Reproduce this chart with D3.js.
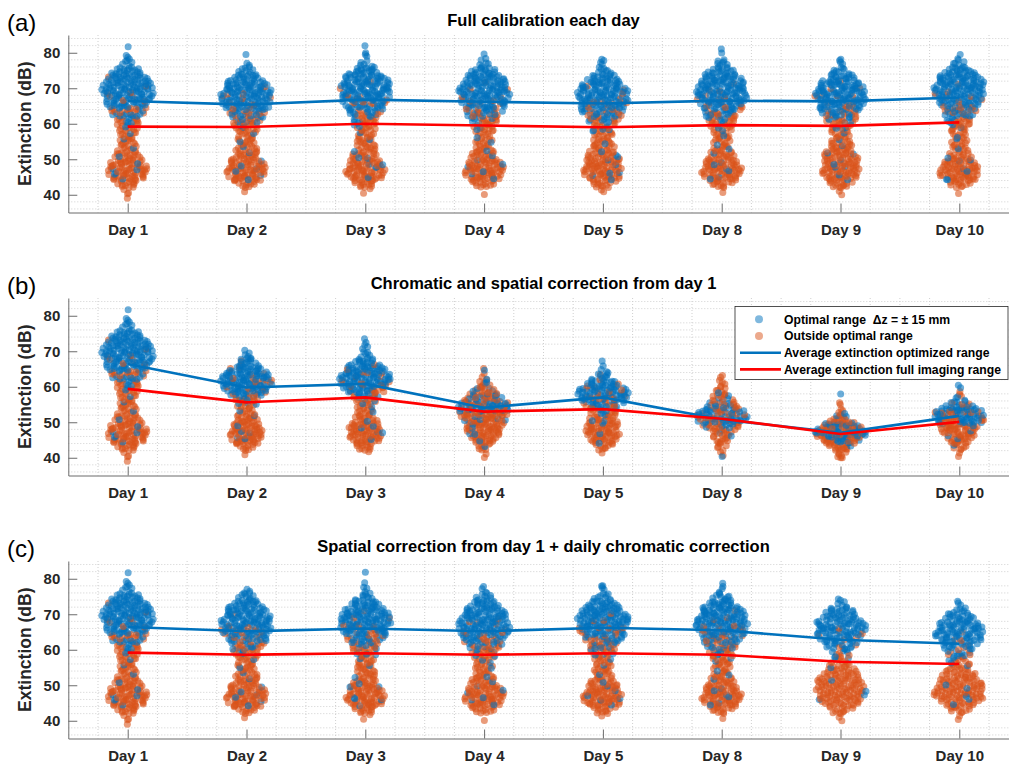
<!DOCTYPE html>
<html>
<head>
<meta charset="utf-8">
<script src="https://cdn.jsdelivr.net/npm/d3@7"></script>
<style>
  body { margin: 0; background: #fff; }
  svg { display: block; }
  text { font-family: "Liberation Sans", Arial, Helvetica, sans-serif; }
</style>
</head>
<body>
<svg id="chart" width="1009" height="766"></svg>
<script>
// Categories
const days = ['Day 1', 'Day 2', 'Day 3', 'Day 4', 'Day 5', 'Day 8', 'Day 9', 'Day 10'];
const yTicks = [40, 50, 60, 70, 80];

// Point counts per 2 dB bin, bins start at 38, 40, ..., 80 dB (22 bins)
const binLows = d3.range(38, 82, 2);

// Day 1 is the same measurement in all three panels
const day1Opt = [0,0,0,2,3,1,1,1,1,1,2,5,10,19,25,30,30,25,16,5,3,1];
const day1Out = [1,3,12,21,23,20,15,10,9,9,10,10,9,6,4,2,1,1,0,0,0,0];

// (a) full calibration each day
const optA = [
  day1Opt,
  [0,0,0,2,2,2,1,1,1,1,3,7,14,22,28,30,26,18,8,2,1,0],
  [0,0,0,1,2,2,2,1,1,1,2,5,10,18,25,29,30,26,16,5,2,2],
  [0,0,0,2,2,2,1,1,1,1,2,6,12,20,26,30,28,24,14,5,2,0],
  [0,0,0,2,2,2,2,1,1,1,3,8,15,23,28,29,25,17,8,3,1,0],
  [0,0,0,2,2,2,1,1,1,1,2,6,12,20,26,30,28,24,15,6,2,1],
  [0,0,0,2,2,2,2,1,1,1,3,7,14,22,28,30,27,18,8,3,1,0],
  [0,0,0,2,2,2,1,1,1,1,2,5,10,18,24,29,31,27,17,6,2,0]
];
const outA = [
  day1Out,
  [0,1,11,21,24,20,14,11,10,10,11,11,9,6,3,2,1,0,0,0,0,0],
  [0,2,12,21,23,19,14,11,10,9,10,10,8,6,4,2,1,0,0,0,0,0],
  [0,1,11,21,24,20,14,10,9,9,10,11,9,6,4,2,1,0,0,0,0,0],
  [0,2,12,20,22,21,17,13,11,10,10,10,9,6,3,2,1,0,0,0,0,0],
  [0,1,11,21,24,20,14,10,9,9,10,11,9,6,4,2,1,0,0,0,0,0],
  [0,3,12,20,22,21,19,15,11,9,10,10,9,6,4,2,1,0,0,0,0,0],
  [0,1,12,22,24,19,12,9,8,8,9,10,9,6,4,2,1,0,0,0,0,0]
];

// (b) chromatic and spatial correction from day 1
const optB = [
  day1Opt,
  [0,0,0,2,2,1,1,1,3,10,22,30,30,22,10,4,1,0,0,0,0,0],
  [0,0,0,1,2,2,1,1,2,7,17,27,30,26,14,6,3,2,0,0,0,0],
  [0,0,1,1,2,3,6,18,22,12,4,2,1,1,0,0,0,0,0,0,0,0],
  [0,0,0,1,1,1,2,5,14,26,28,18,8,3,1,0,0,0,0,0,0,0],
  [0,1,0,0,2,10,22,20,8,3,1,0,0,0,0,0,0,0,0,0,0,0],
  [0,0,1,12,30,16,3,1,0,1,0,0,0,0,0,0,0,0,0,0,0,0],
  [0,0,1,1,2,7,20,26,11,3,1,1,0,0,0,0,0,0,0,0,0,0]
];
const outB = [
  day1Out,
  [0,1,10,19,22,19,13,9,9,9,8,6,4,2,1,0,0,0,0,0,0,0],
  [0,1,10,19,22,19,13,9,9,9,9,7,4,2,1,0,0,0,0,0,0,0],
  [0,2,7,16,22,24,24,18,16,14,10,6,2,1,0,0,0,0,0,0,0,0],
  [0,1,8,18,21,20,15,11,10,8,5,3,1,0,0,0,0,0,0,0,0,0],
  [0,2,5,9,12,13,12,11,10,8,6,4,2,0,0,0,0,0,0,0,0,0],
  [1,6,15,22,20,18,9,4,2,0,0,0,0,0,0,0,0,0,0,0,0,0],
  [0,2,7,15,20,20,16,9,4,2,1,0,0,0,0,0,0,0,0,0,0,0]
];

// (c) spatial correction from day 1 + daily chromatic correction
const optC = [
  day1Opt,
  [0,0,0,2,2,2,1,1,1,1,3,8,15,23,28,29,25,18,8,3,0,0],
  [0,0,0,2,2,2,1,1,1,1,3,7,14,22,28,30,26,18,8,3,1,1],
  [0,0,0,2,2,2,1,1,1,2,4,9,16,24,28,28,24,16,8,3,0,0],
  [0,0,0,2,2,2,1,1,1,1,3,7,14,22,28,30,26,18,8,3,1,0],
  [0,0,0,2,2,2,1,1,1,2,4,8,15,23,28,29,26,18,9,3,1,0],
  [0,0,0,1,1,1,1,0,1,2,5,11,19,25,26,22,14,5,1,0,0,0],
  [0,0,0,1,2,1,1,0,1,3,8,14,22,26,24,16,8,3,0,0,0,0]
];
const outC = [
  day1Out,
  [0,1,11,21,24,20,14,11,10,10,11,11,9,6,3,1,0,0,0,0,0,0],
  [0,2,12,21,23,19,14,11,10,9,10,10,8,6,4,2,1,0,0,0,0,0],
  [0,1,11,21,24,20,14,10,9,9,10,11,9,6,3,1,0,0,0,0,0,0],
  [0,1,11,21,24,20,14,10,9,9,10,11,9,6,4,2,1,0,0,0,0,0],
  [0,1,11,21,24,20,14,10,9,9,10,11,9,6,4,2,1,0,0,0,0,0],
  [0,3,10,19,25,26,24,20,12,7,4,3,3,2,1,0,0,0,0,0,0,0],
  [0,2,9,19,26,26,22,17,11,7,5,3,2,1,0,0,0,0,0,0,0,0]
];

// Average extinction per day (dB)
const avgOptA = [66.4, 65.4, 66.8, 66.2, 65.7, 66.5, 66.3, 67.4];
const avgFullA = [59.2, 59.1, 60.0, 59.5, 59.0, 59.6, 59.4, 60.4];
const avgOptB = [66.4, 59.8, 60.8, 54.1, 57.0, 50.8, 47.0, 51.8];
const avgFullB = [59.4, 55.6, 57.0, 53.0, 53.7, 51.0, 46.7, 50.1];
const avgOptC = [66.4, 65.2, 66.0, 65.2, 66.2, 65.5, 62.8, 61.7];
const avgFullC = [59.2, 58.6, 59.0, 58.6, 59.0, 58.6, 56.6, 56.0];

const panels = [
  { tag: '(a)', title: 'Full calibration each day', opt: optA, out: outA, avgOpt: avgOptA, avgFull: avgFullA, top: 35, legend: false },
  { tag: '(b)', title: 'Chromatic and spatial correction from day 1', opt: optB, out: outB, avgOpt: avgOptB, avgFull: avgFullB, top: 298, legend: true },
  { tag: '(c)', title: 'Spatial correction from day 1 + daily chromatic correction', opt: optC, out: outC, avgOpt: avgOptC, avgFull: avgFullC, top: 561, legend: false }
];

const blue = '#0072BD';
const orange = '#D95319';
const red = '#FF0000';
const axisColor = '#6b6b6b';
const textColor = '#262626';

const left = 68.3;
const plotH = 177.5;
const binW = 2;
const dotR = 3.5;
const halfW = 26;      // jitter half width at the densest point, px
const bandwidth = 1.3; // dB, smoothing of the density used for the jitter width

const svg = d3.select('#chart');

const x = d3.scaleLinear().domain([0.5, 8.5]).range([left, 1018.7]);

// radical inverse, used to spread points evenly inside a bin
function halton(i, base) {
  let f = 1, r = 0;
  while (i > 0) {
    f /= base;
    r += f * (i % base);
    i = Math.floor(i / base);
  }
  return r;
}

// swarm of one day: both groups share one density-scaled jitter (like swarmchart)
function swarm(opt, out, cx, y, di) {
  const total = opt.map((o, i) => o + out[i]);
  const centers = binLows.map(b => b + binW / 2);
  const dens = v => d3.sum(total, (c, i) => c * Math.exp(-((v - centers[i]) ** 2) / (2 * bandwidth * bandwidth)));
  const maxD = d3.max(d3.range(36, 84, 0.25), dens);
  const pts = [];
  let idx = 1 + di * 53;
  total.forEach((n, b) => {
    const nb = opt[b];
    for (let k = 0; k < n; k++) {
      const v = binLows[b] + halton(idx, 2) * binW;
      const s = halton(idx, 3) * 2 - 1;
      idx++;
      const isOpt = Math.floor((k + 1) * nb / n) > Math.floor(k * nb / n);
      const w = halfW * dens(v) / maxD;
      pts.push({ x: cx + s * w, y: y(v), opt: isOpt });
    }
  });
  return pts;
}

panels.forEach((p, pi) => {
  const top = p.top;
  const bottom = top + plotH;
  const y = d3.scaleLinear().domain([35, 85]).range([bottom, top]);
  const g = svg.append('g');

  // minor grid
  const grid = g.append('g')
    .attr('stroke', '#cfcfcf')
    .attr('stroke-width', 1)
    .attr('stroke-dasharray', '1,2');
  const vMinor = d3.range(0.75, 8.6, 0.25).filter(v => Math.abs(v - Math.round(v)) > 0.01);
  grid.selectAll('line.v')
    .data(vMinor)
    .enter().append('line')
    .attr('x1', d => x(d)).attr('x2', d => x(d))
    .attr('y1', top).attr('y2', bottom);
  const hMinor = d3.range(36, 85, 2).filter(v => v % 10 !== 0);
  grid.selectAll('line.h')
    .data(hMinor)
    .enter().append('line')
    .attr('x1', left).attr('x2', 1009)
    .attr('y1', d => y(d)).attr('y2', d => y(d));

  // swarms
  const dots = g.append('g');
  days.forEach((d, di) => {
    const pts = swarm(p.opt[di], p.out[di], x(di + 1), y, di);
    dots.append('g').selectAll('circle')
      .data(pts)
      .enter().append('circle')
      .attr('cx', n => n.x)
      .attr('cy', n => n.y)
      .attr('r', dotR)
      .attr('fill', n => n.opt ? blue : orange)
      .attr('fill-opacity', 0.58);
  });

  // average lines
  const line = d3.line().x((v, i) => x(i + 1)).y(v => y(v));
  g.append('path')
    .attr('d', line(p.avgOpt))
    .attr('fill', 'none')
    .attr('stroke', blue)
    .attr('stroke-width', 2.6);
  g.append('path')
    .attr('d', line(p.avgFull))
    .attr('fill', 'none')
    .attr('stroke', red)
    .attr('stroke-width', 2.6);

  // axes
  const yAxis = g.append('g')
    .attr('transform', `translate(${left},0)`)
    .call(d3.axisLeft(y).tickValues(yTicks).tickSize(-9).tickSizeOuter(0).tickPadding(8));
  const xAxis = g.append('g')
    .attr('transform', `translate(0,${bottom})`)
    .call(d3.axisBottom(x).tickValues(d3.range(1, 9)).tickFormat(i => days[i - 1]).tickSize(-9).tickSizeOuter(0).tickPadding(12));
  [yAxis, xAxis].forEach(a => {
    a.select('.domain').attr('stroke', axisColor);
    a.selectAll('.tick line').attr('stroke', axisColor);
    a.selectAll('.tick text')
      .attr('fill', textColor)
      .style('font-size', '15px')
      .style('font-weight', 'bold');
  });

  // y label
  g.append('text')
    .attr('transform', `translate(31,${(top + bottom) / 2}) rotate(-90)`)
    .attr('text-anchor', 'middle')
    .attr('fill', textColor)
    .style('font-size', '17.5px')
    .style('font-weight', 'bold')
    .text('Extinction (dB)');

  // title
  g.append('text')
    .attr('x', (left + 1018.7) / 2)
    .attr('y', top - 9.5)
    .attr('text-anchor', 'middle')
    .attr('fill', '#000')
    .style('font-size', '16.5px')
    .style('font-weight', 'bold')
    .text(p.title);

  // panel tag
  g.append('text')
    .attr('x', 7)
    .attr('y', top - 4.5)
    .attr('fill', '#000')
    .style('font-size', '24px')
    .text(p.tag);

  // legend
  if (p.legend) {
    const lg = g.append('g').attr('transform', 'translate(735,306.5)');
    lg.append('rect')
      .attr('width', 273)
      .attr('height', 73)
      .attr('fill', '#fff')
      .attr('stroke', '#262626')
      .attr('stroke-width', 0.8);
    const items = [
      { type: 'dot', color: blue, label: 'Optimal range  \u0394z = \u00B1 15 mm' },
      { type: 'dot', color: orange, label: 'Outside optimal range' },
      { type: 'line', color: blue, label: 'Average extinction optimized range' },
      { type: 'line', color: red, label: 'Average extinction full imaging range' }
    ];
    items.forEach((it, i) => {
      const cy = 12.8 + i * 16.7;
      if (it.type === 'dot') {
        lg.append('circle')
          .attr('cx', 24).attr('cy', cy).attr('r', 4)
          .attr('fill', it.color).attr('fill-opacity', 0.5);
      } else {
        lg.append('line')
          .attr('x1', 5).attr('x2', 46)
          .attr('y1', cy).attr('y2', cy)
          .attr('stroke', it.color).attr('stroke-width', 2.6);
      }
      lg.append('text')
        .attr('x', 49)
        .attr('y', cy)
        .attr('dy', '0.35em')
        .attr('fill', '#000')
        .style('font-size', '12.2px')
        .style('font-weight', 'bold')
        .style('white-space', 'pre')
        .text(it.label);
    });
  }
});
</script>
</body>
</html>
